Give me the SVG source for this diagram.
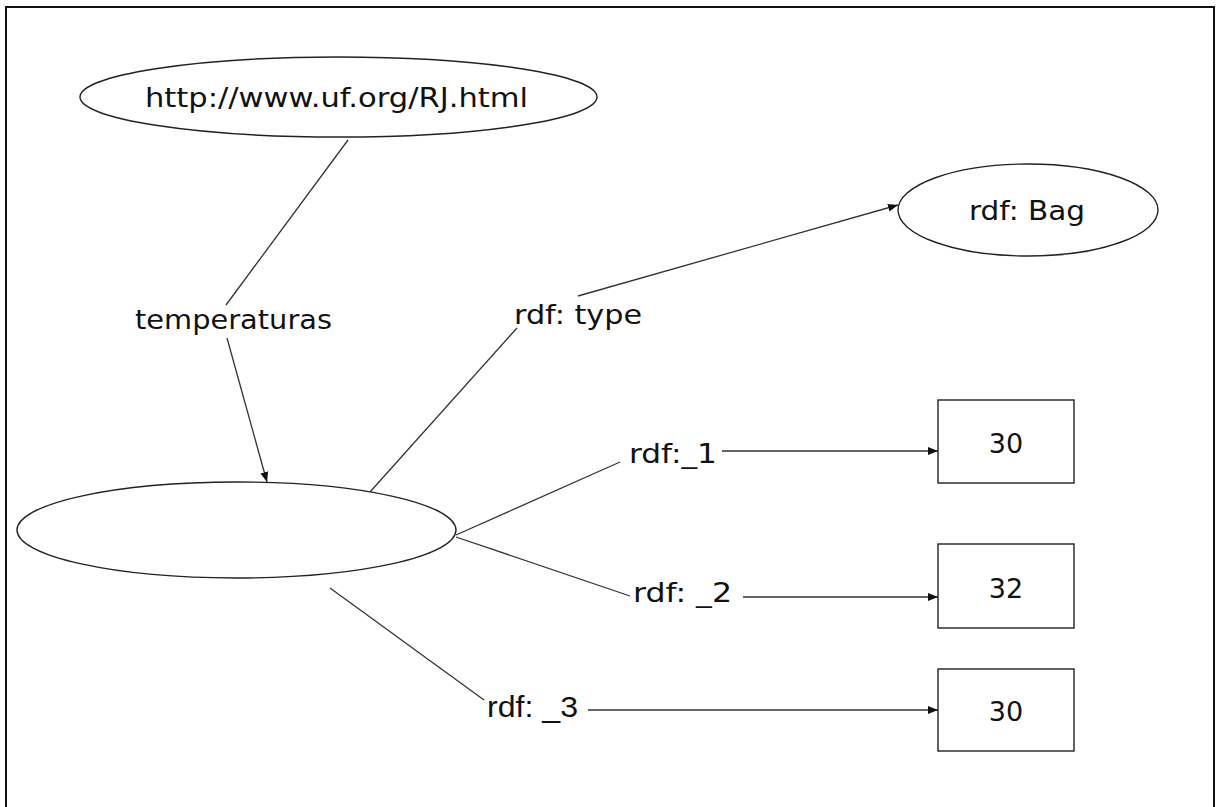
<svg xmlns="http://www.w3.org/2000/svg" width="1216" height="807" viewBox="0 0 1216 807">
<style>
.shape{fill:#fff;stroke:#222;stroke-width:1.4}
.edge{fill:none;stroke:#333;stroke-width:1.3}
.t{font-family:"DejaVu Sans",Verdana,sans-serif;font-size:27px;fill:#111}
.a{font-family:"Liberation Sans",Arial,sans-serif;font-size:29px;fill:#111}
</style>
<defs>
<marker id="arr" viewBox="0 0 10 8" refX="10" refY="4" markerWidth="10" markerHeight="8" markerUnits="userSpaceOnUse" orient="auto">
<path d="M0,0 L10,4 L0,8 Z" fill="#111"/>
</marker>
</defs>
<rect x="0" y="0" width="1216" height="807" fill="#fff"/>
<rect x="6" y="7" width="1208" height="810" fill="none" stroke="#111" stroke-width="2"/>
<g id="connectors">
<line class="edge" x1="348" y1="140" x2="226" y2="305"/>
<line class="edge" x1="227" y1="338" x2="267" y2="482" marker-end="url(#arr)"/>
<line class="edge" x1="370" y1="492" x2="517" y2="328"/>
<line class="edge" x1="578" y1="296" x2="898" y2="205" marker-end="url(#arr)"/>
<line class="edge" x1="456" y1="535" x2="620" y2="462"/>
<line class="edge" x1="722" y1="451" x2="938" y2="451" marker-end="url(#arr)"/>
<line class="edge" x1="456" y1="537" x2="630" y2="596"/>
<line class="edge" x1="743" y1="597" x2="938" y2="597" marker-end="url(#arr)"/>
<line class="edge" x1="330" y1="588" x2="484" y2="700"/>
<line class="edge" x1="588" y1="710" x2="938" y2="710" marker-end="url(#arr)"/>
</g>
<g id="node-url">
<ellipse class="shape" cx="338.5" cy="97" rx="258.5" ry="40"/>
<text class="t" x="145" y="107" textLength="383" lengthAdjust="spacingAndGlyphs">http://www.uf.org/RJ.html</text>
</g>
<g id="label-temperaturas">
<text class="t" x="135" y="329" textLength="197" lengthAdjust="spacingAndGlyphs">temperaturas</text>
</g>
<g id="node-bag-blank">
<ellipse class="shape" cx="236.5" cy="530" rx="219.5" ry="48"/>
</g>
<g id="label-type">
<text class="t" x="514" y="324" textLength="128" lengthAdjust="spacingAndGlyphs">rdf: type</text>
</g>
<g id="node-rdfbag">
<ellipse class="shape" cx="1028" cy="210" rx="130" ry="46"/>
<text class="t" x="969" y="220" textLength="116" lengthAdjust="spacingAndGlyphs">rdf: Bag</text>
</g>
<g id="label-1">
<text class="t" x="629" y="463" textLength="88" lengthAdjust="spacingAndGlyphs">rdf:_1</text>
</g>
<g id="label-2">
<text class="t" x="633" y="602" textLength="99" lengthAdjust="spacingAndGlyphs">rdf: _2</text>
</g>
<g id="label-3">
<text class="a" x="487" y="717" textLength="91" lengthAdjust="spacingAndGlyphs">rdf: _3</text>
</g>
<g id="node-v1">
<rect class="shape" x="938" y="400" width="136" height="83"/>
<text class="t" x="1006" y="453" text-anchor="middle">30</text>
</g>
<g id="node-v2">
<rect class="shape" x="938" y="544" width="136" height="84"/>
<text class="t" x="1006" y="598" text-anchor="middle">32</text>
</g>
<g id="node-v3">
<rect class="shape" x="938" y="669" width="136" height="82"/>
<text class="t" x="1006" y="721" text-anchor="middle">30</text>
</g>
</svg>
